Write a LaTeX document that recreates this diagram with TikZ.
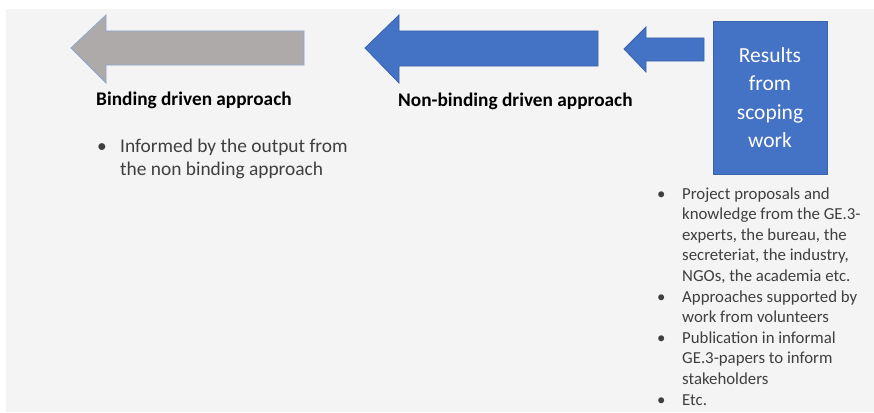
\documentclass[tikz,border=0pt]{standalone}
\usepackage{fontspec}
\setmainfont{Carlito}
\definecolor{bg}{HTML}{F4F4F4}
\definecolor{officeblue}{HTML}{4472C4}
\definecolor{blueline}{HTML}{3A64B0}
\definecolor{grayfill}{HTML}{AEAAAA}
\definecolor{grayline}{HTML}{8EA6CF}
\definecolor{txtgray}{HTML}{3F3F3F}
\tikzset{
  bluearrow/.style={fill=officeblue, draw=blueline, line width=0.8pt, line join=miter},
  grayarrow/.style={fill=grayfill, draw=grayline, line width=0.8pt, line join=miter},
  resbox/.style={fill=officeblue, draw=blueline, line width=0.8pt, minimum width=114pt, minimum height=153pt,
    text=white, align=center, font=\fontsize{21.5}{28.5}\selectfont, inner sep=0pt},
  lbl/.style={font=\fontsize{19.3}{22}\selectfont\bfseries, text=black, inner sep=0pt, anchor=base west},
  blist/.style={text=txtgray, inner sep=0pt, anchor=base west}
}
\begin{document}
\begin{tikzpicture}[x=1pt,y=-1pt]
\useasboundingbox (0,0) rectangle (874,412);
\fill[white] (0,0) rectangle (874,412);
\fill[bg] (6,9) rectangle (874,412);
% arrows
\draw[grayarrow] (71,48) -- (106,15) -- (106,31) -- (304,31) -- (304,65) -- (106,65) -- (106,83) -- cycle;
\draw[bluearrow] (365,48) -- (399,15) -- (399,31) -- (598,31) -- (598,66) -- (399,66) -- (399,83) -- cycle;
\draw[bluearrow] (624,49) -- (646,27) -- (646,38) -- (704,38) -- (704,61) -- (646,61) -- (646,72) -- cycle;
% box
\node[resbox] (res) at (770,97.5) {Results\\from\\scoping\\work};
% labels
\node[lbl] (bind) at (96,105) {Binding driven approach};
\node[lbl] (nonbind) at (398,106) {Non-binding driven approach};
% left list
\node[blist, font=\fontsize{19.4}{23}\selectfont] (leftlist) at (97,152) {%
\begin{tabular}[t]{@{}p{23pt}@{}l@{}}
\textbullet & Informed by the output from\\
 & the non binding approach
\end{tabular}};
% right list
\node[blist, font=\fontsize{16.8}{20.6}\selectfont] (rightlist) at (657,199) {%
\begin{tabular}[t]{@{}p{25pt}@{}l@{}}
\textbullet & Project proposals and\\
 & knowledge from the GE.3-\\
 & experts, the bureau, the\\
 & secreteriat, the industry,\\
 & NGOs, the academia etc.\\
\textbullet & Approaches supported by\\
 & work from volunteers\\
\textbullet & Publication in informal\\
 & GE.3-papers to inform\\
 & stakeholders\\
\textbullet & Etc.
\end{tabular}};
\end{tikzpicture}
\end{document}
